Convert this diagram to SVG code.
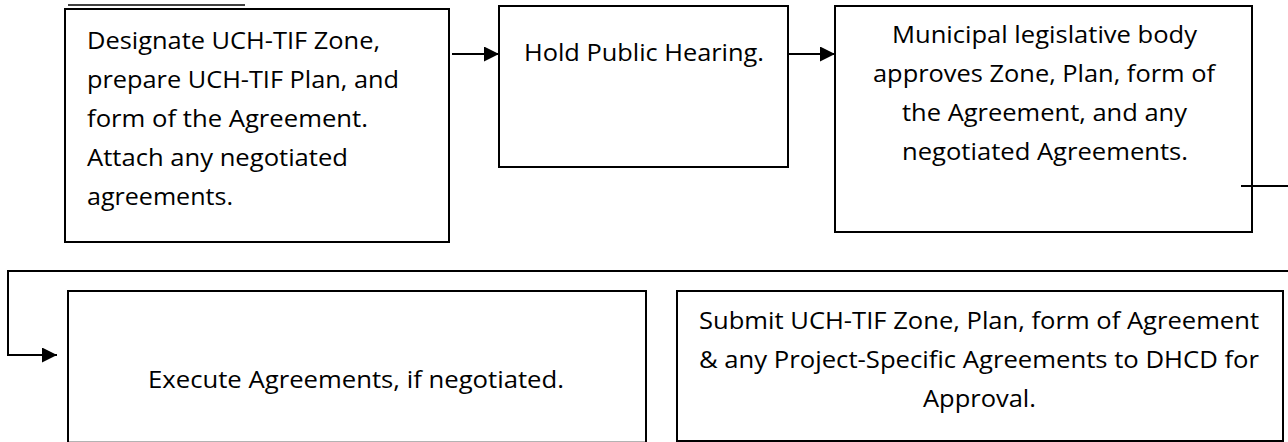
<svg xmlns="http://www.w3.org/2000/svg" width="1288" height="442" viewBox="0 0 1288 442">
  <style>
    .box { fill: #ffffff; stroke: #000000; stroke-width: 2; }
    .conn { fill: none; stroke: #000000; stroke-width: 2; }
    .t { font-family: "Open Sans", "Liberation Sans", sans-serif; font-size: 24px; fill: #000000; }
    .c { text-anchor: middle; }
  </style>
  <defs>
    <marker id="arrow" markerUnits="userSpaceOnUse" markerWidth="16" markerHeight="16" refX="15" refY="7.5" orient="auto">
      <path d="M0,0 L15,7.5 L0,15 Z" fill="#000000"/>
    </marker>
  </defs>
  <rect width="1288" height="442" fill="#ffffff"/>

  <g id="node-designate">
    <line x1="68" y1="5" x2="245" y2="5" stroke="#000000" stroke-width="1.6"/>
    <rect class="box" x="65" y="9" width="384" height="233"/>
    <text class="t" x="87" y="49" textLength="293" lengthAdjust="spacingAndGlyphs">Designate UCH-TIF Zone,</text>
    <text class="t" x="87" y="88" textLength="312" lengthAdjust="spacingAndGlyphs">prepare UCH-TIF Plan, and</text>
    <text class="t" x="87" y="127" textLength="281" lengthAdjust="spacingAndGlyphs">form of the Agreement.</text>
    <text class="t" x="87" y="166" textLength="261" lengthAdjust="spacingAndGlyphs">Attach any negotiated</text>
    <text class="t" x="87" y="205" textLength="146" lengthAdjust="spacingAndGlyphs">agreements.</text>
  </g>

  <g id="node-hearing">
    <rect class="box" x="499" y="6" width="289" height="161"/>
    <text class="t c" x="644" y="61" textLength="240" lengthAdjust="spacingAndGlyphs">Hold Public Hearing.</text>
  </g>

  <g id="node-approve">
    <rect class="box" x="835" y="6" width="417" height="226"/>
    <text class="t c" x="1044.5" y="43" textLength="305" lengthAdjust="spacingAndGlyphs">Municipal legislative body</text>
    <text class="t c" x="1044" y="82" textLength="342" lengthAdjust="spacingAndGlyphs">approves Zone, Plan, form of</text>
    <text class="t c" x="1044.5" y="121" textLength="285" lengthAdjust="spacingAndGlyphs">the Agreement, and any</text>
    <text class="t c" x="1045" y="160" textLength="286" lengthAdjust="spacingAndGlyphs">negotiated Agreements.</text>
  </g>

  <g id="node-execute">
    <rect class="box" x="68" y="291" width="578" height="151.7"/>
    <text class="t c" x="356" y="388" textLength="416" lengthAdjust="spacingAndGlyphs">Execute Agreements, if negotiated.</text>
  </g>

  <g id="node-submit">
    <rect class="box" x="677" y="291" width="606" height="150"/>
    <text class="t c" x="979" y="329" textLength="560" lengthAdjust="spacingAndGlyphs">Submit UCH-TIF Zone, Plan, form of Agreement</text>
    <text class="t c" x="979" y="368" textLength="560" lengthAdjust="spacingAndGlyphs">&amp; any Project-Specific Agreements to DHCD for</text>
    <text class="t c" x="979.5" y="407" textLength="113" lengthAdjust="spacingAndGlyphs">Approval.</text>
  </g>

  <g id="connectors">
    <path class="conn" d="M452 54 H499" marker-end="url(#arrow)"/>
    <path class="conn" d="M788 54 H835" marker-end="url(#arrow)"/>
    <path class="conn" d="M1241 186 H1300 V271 H8 V355 H57" marker-end="url(#arrow)"/>
  </g>
</svg>
